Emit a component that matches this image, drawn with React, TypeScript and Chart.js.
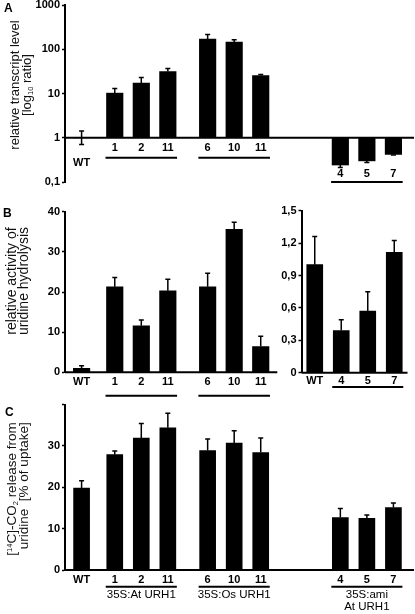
import React, { useEffect, useRef } from "react";
import { Chart, registerables } from "chart.js";

Chart.register(...registerables);

const FONT = "'Liberation Sans', Arial, Helvetica, sans-serif";

// ---------------- data ----------------
const LINES = ["WT", "1", "2", "11", "6", "10", "11", "4", "5", "7"];
const B_LEFT_LINES = ["WT", "1", "2", "11", "6", "10", "11"];
const B_RIGHT_LINES = ["WT", "4", "5", "7"];
const GROUP_NAMES = ["35S:At URH1", "35S:Os URH1", "35S:ami\nAt URH1"];

// A: relative transcript level [log10 ratio]
const A_VALUES = [1, 10.2, 17.2, 31.4, 169, 145, 25.5, 0.242, 0.3, 0.42];
const A_ERR_UP = [1.43, 13, 23, 36.6, 215, 163, 27, null, null, null];
const A_ERR_DOWN = [0.7, null, null, null, null, null, null, 0.214, 0.277, 0.405];
const A_TICKS = [0.1, 1, 10, 100, 1000];

// B: relative activity of uridine hydrolysis
const B_LEFT_VALUES = [1.0, 21.3, 11.6, 20.3, 21.3, 35.6, 6.4];
const B_LEFT_ERR_UP = [1.65, 23.6, 13.0, 23.2, 24.7, 37.4, 9.0];
const B_LEFT_TICKS = [0, 10, 20, 30, 40];
const B_RIGHT_VALUES = [1.0, 0.39, 0.57, 1.115];
const B_RIGHT_ERR_UP = [1.26, 0.49, 0.75, 1.225];
const B_RIGHT_TICKS = [0, 0.3, 0.6, 0.9, 1.2, 1.5];

// C: [14C]-CO2 release from uridine [% of uptake]
const C_VALUES = [19.8, 27.9, 31.9, 34.4, 28.9, 30.7, 28.4, 12.7, 12.5, 15.1];
const C_ERR_UP = [21.6, 28.8, 35.4, 37.9, 31.7, 33.7, 31.9, 14.9, 13.3, 16.2];
const C_TICKS = [0, 10, 20, 30, 40];

// ---------------- layout (not data) ----------------
// spacing between neighbouring lines, in quarter-slot units
const STEPS = [0, 5, 4, 4, 6, 4, 4, 12, 4, 4];
const LEAD = 2;
const MAIN_SLOTS = 52;
const B_LEFT_SLOTS = 32;
const Y_W = 30;

const slotsFrom = (steps: number[], lead: number) => {
  const out: number[] = [];
  let acc = lead;
  steps.forEach((s) => {
    acc += s;
    out.push(acc);
  });
  return out;
};

const MAIN_SLOT_IDX = slotsFrom(STEPS, LEAD);
const B_LEFT_SLOT_IDX = MAIN_SLOT_IDX.slice(0, B_LEFT_LINES.length);
const B_RIGHT_SLOT_IDX = [0, 1, 2, 3];

type Box = { left: number; top: number; w: number; h: number };
type Area = { left: number; top: number; right: number; bottom: number };

type Spec = {
  box: Box;
  area: Area;
  n: number;
  slots: number[];
  labels: string[];
  values: (number | null)[];
  errUp?: (number | null)[];
  errDown?: (number | null)[];
  log?: boolean;
  min: number;
  max: number;
  ticks: number[];
  fmt: (v: number) => string;
  base: number;
  extend: number;
  barWidth: number;
  labelY: (i: number, base: number, bottom: number) => number;
  groups: { from: number; to: number; name?: string }[];
  groupY: (g: number, base: number, bottom: number) => number;
};

const comma = (v: number) => (v === 0 ? "0" : v.toFixed(1).replace(".", ","));

function overlay(spec: Spec) {
  return {
    id: "overlay",
    afterDatasetsDraw(chart: any) {
      const ctx: CanvasRenderingContext2D = chart.ctx;
      const a = chart.chartArea;
      const xs = chart.scales.x;
      const ys = chart.scales.y;
      const base = ys.getPixelForValue(spec.base);
      ctx.save();
      ctx.strokeStyle = "#000";
      ctx.fillStyle = "#000";
      // baseline
      ctx.lineWidth = 2;
      ctx.beginPath();
      ctx.moveTo(a.left, base);
      ctx.lineTo(a.right + spec.extend, base);
      ctx.stroke();
      // error bars
      ctx.lineWidth = 1.5;
      const err = (i: number, from: number, to: number) => {
        const x = xs.getPixelForValue(spec.slots[i]);
        const y0 = ys.getPixelForValue(from);
        const y1 = ys.getPixelForValue(to);
        ctx.beginPath();
        ctx.moveTo(x, y0);
        ctx.lineTo(x, y1);
        ctx.moveTo(x - 2.5, y1);
        ctx.lineTo(x + 2.5, y1);
        ctx.stroke();
      };
      spec.values.forEach((v, i) => {
        if (v == null) return;
        const u = spec.errUp ? spec.errUp[i] : null;
        if (u != null) err(i, v, u);
        const d = spec.errDown ? spec.errDown[i] : null;
        if (d != null) err(i, v, d);
      });
      // category labels
      ctx.font = `bold 11px ${FONT}`;
      ctx.textAlign = "center";
      ctx.textBaseline = "middle";
      spec.labels.forEach((l, i) => {
        ctx.fillText(l, xs.getPixelForValue(spec.slots[i]), spec.labelY(i, base, a.bottom));
      });
      // group underlines + names
      spec.groups.forEach((g, gi) => {
        const hw = spec.barWidth / 2 + 1;
        const x0 = xs.getPixelForValue(spec.slots[g.from]) - hw;
        const x1 = xs.getPixelForValue(spec.slots[g.to]) + hw;
        const y = spec.groupY(gi, base, a.bottom);
        ctx.lineWidth = 2;
        ctx.beginPath();
        ctx.moveTo(x0, y);
        ctx.lineTo(x1, y);
        ctx.stroke();
        if (g.name) {
          ctx.font = `11.5px ${FONT}`;
          g.name.split("\n").forEach((t, k) => {
            ctx.fillText(t, (x0 + x1) / 2, y + 8.5 + k * 12);
          });
        }
      });
      ctx.restore();
    },
  };
}

function BarPanel({ spec }: { spec: Spec }) {
  const ref = useRef<HTMLCanvasElement | null>(null);
  useEffect(() => {
    const canvas = ref.current;
    if (!canvas) return;
    const { box, area } = spec;
    const data: (number | null)[] = new Array(spec.n).fill(null);
    const cats: string[] = new Array(spec.n).fill("");
    spec.slots.forEach((s, i) => {
      data[s] = spec.values[i];
      cats[s] = spec.labels[i];
    });
    const padding = {
      left: area.left - box.left - Y_W,
      top: area.top - box.top,
      right: box.left + box.w - area.right,
      bottom: box.top + box.h - area.bottom,
    };
    const ds: any = {
      data,
      backgroundColor: "#000",
      borderWidth: 0,
      barThickness: spec.barWidth,
    };
    if (spec.log) ds.base = spec.base;
    const chart = new Chart(canvas, {
      type: "bar",
      data: { labels: cats, datasets: [ds] },
      options: {
        responsive: false,
        animation: false,
        devicePixelRatio: 1,
        events: [],
        layout: { padding },
        plugins: { legend: { display: false }, tooltip: { enabled: false } },
        scales: {
          x: { display: false, offset: true },
          y: {
            type: spec.log ? "logarithmic" : "linear",
            min: spec.min,
            max: spec.max,
            afterBuildTicks: (s: any) => {
              s.ticks = spec.ticks.map((v) => ({ value: v }));
            },
            afterFit: (s: any) => {
              s.width = Y_W;
            },
            ticks: {
              autoSkip: false,
              maxRotation: 0,
              padding: 2,
              color: "#000",
              font: { family: FONT, size: 11, weight: "bold" },
              callback: (v: any) => spec.fmt(Number(v)),
            },
            grid: {
              display: true,
              drawOnChartArea: false,
              drawTicks: true,
              tickLength: 3,
              tickWidth: 1.5,
              tickColor: "#000",
              color: "#000",
            },
            border: { display: true, color: "#000", width: 2 },
          },
        },
      } as any,
      plugins: [overlay(spec)],
    });
    return () => chart.destroy();
  }, [spec]);
  const { box } = spec;
  return (
    <canvas
      ref={ref}
      width={box.w}
      height={box.h}
      style={{ position: "absolute", left: box.left, top: box.top, width: box.w, height: box.h }}
    />
  );
}

const SPEC_A: Spec = {
  box: { left: 0, top: -10, w: 415, h: 215 },
  area: { left: 65, top: 5, right: 410, bottom: 182 },
  n: MAIN_SLOTS,
  slots: MAIN_SLOT_IDX,
  labels: LINES,
  values: A_VALUES,
  errUp: A_ERR_UP,
  errDown: A_ERR_DOWN,
  log: true,
  min: 0.1,
  max: 1000,
  ticks: A_TICKS,
  fmt: (v) => (v < 1 ? String(v).replace(".", ",") : String(v)),
  base: 1,
  extend: 4,
  barWidth: 16.5,
  labelY: (i, base, bottom) => (i === 0 ? base + 25.5 : i >= 7 ? bottom - 8.3 : base + 10.5),
  groups: [
    { from: 1, to: 3 },
    { from: 4, to: 6 },
    { from: 7, to: 9 },
  ],
  groupY: (g, base, bottom) => (g === 2 ? bottom : base + 20),
};

const SPEC_B_LEFT: Spec = {
  box: { left: 0, top: 195, w: 290, h: 210 },
  area: { left: 65, top: 211.7, right: 65 + (B_LEFT_SLOTS * 345) / MAIN_SLOTS, bottom: 372.3 },
  n: B_LEFT_SLOTS,
  slots: B_LEFT_SLOT_IDX,
  labels: B_LEFT_LINES,
  values: B_LEFT_VALUES,
  errUp: B_LEFT_ERR_UP,
  min: 0,
  max: 40,
  ticks: B_LEFT_TICKS,
  fmt: (v) => String(v),
  base: 0,
  extend: 0,
  barWidth: 16.5,
  labelY: (_i, _b, bottom) => bottom + 9.7,
  groups: [
    { from: 1, to: 3 },
    { from: 4, to: 6 },
  ],
  groupY: (_g, _b, bottom) => bottom + 23.5,
};

const SPEC_B_RIGHT: Spec = {
  box: { left: 260, top: 195, w: 155, h: 210 },
  area: { left: 301.5, top: 210.7, right: 407.5, bottom: 372.7 },
  n: B_RIGHT_LINES.length,
  slots: B_RIGHT_SLOT_IDX,
  labels: B_RIGHT_LINES,
  values: B_RIGHT_VALUES,
  errUp: B_RIGHT_ERR_UP,
  min: 0,
  max: 1.5,
  ticks: B_RIGHT_TICKS,
  fmt: comma,
  base: 0,
  extend: 0,
  barWidth: 16,
  labelY: (_i, _b, bottom) => bottom + 8.7,
  groups: [{ from: 1, to: 3 }],
  groupY: (_g, _b, bottom) => bottom + 14.3,
};

const SPEC_C: Spec = {
  box: { left: 0, top: 390, w: 415, h: 224 },
  area: { left: 65, top: 404.6, right: 410, bottom: 570 },
  n: MAIN_SLOTS,
  slots: MAIN_SLOT_IDX,
  labels: LINES,
  values: C_VALUES,
  errUp: C_ERR_UP,
  min: 0,
  max: 40,
  ticks: C_TICKS,
  fmt: (v) => (v === 40 ? "" : String(v)),
  base: 0,
  extend: 4,
  barWidth: 16,
  labelY: (_i, _b, bottom) => bottom + 9.5,
  groups: [
    { from: 1, to: 3, name: GROUP_NAMES[0] },
    { from: 4, to: 6, name: GROUP_NAMES[1] },
    { from: 7, to: 9, name: GROUP_NAMES[2] },
  ],
  groupY: (_g, _b, bottom) => bottom + 16.7,
};

const titleStyle = (cx: number, cy: number, size: number, align: "center" | "right" = "center"): React.CSSProperties => ({
  position: "absolute",
  left: cx,
  top: cy,
  transform: "translate(-50%, -50%) rotate(-90deg)",
  fontFamily: FONT,
  fontSize: size,
  lineHeight: "12px",
  whiteSpace: "nowrap",
  textAlign: align,
  color: "#111",
});

const letterStyle = (x: number, y: number): React.CSSProperties => ({
  position: "absolute",
  left: x,
  top: y,
  fontFamily: FONT,
  fontWeight: "bold",
  fontSize: 12,
  lineHeight: "12px",
  color: "#000",
});

const small = (dy: number): React.CSSProperties => ({
  fontSize: 7.5,
  position: "relative",
  top: dy,
  lineHeight: 0,
});

export default function App() {
  return (
    <div
      style={{
        position: "absolute",
        left: 0,
        top: 0,
        width: 415,
        height: 614,
        overflow: "hidden",
        background: "#fff",
      }}
    >
      <BarPanel spec={SPEC_A} />
      <BarPanel spec={SPEC_B_LEFT} />
      <BarPanel spec={SPEC_B_RIGHT} />
      <BarPanel spec={SPEC_C} />

      <div style={letterStyle(4, 2)}>A</div>
      <div style={letterStyle(3, 206.5)}>B</div>
      <div style={letterStyle(5, 406)}>C</div>

      <div style={titleStyle(21, 85, 13)}>
        relative transcript level
        <br />[log<span style={small(2)}>10</span> ratio]
      </div>
      <div style={titleStyle(17.3, 281, 14)}>
        relative activity of
        <br />
        uridine hydrolysis
      </div>
      <div style={titleStyle(18, 489, 13.5, "right")}>
        [<span style={small(-4)}>14</span>C]-CO<span style={small(2)}>2</span> release from
        <br />
        uridine&nbsp;&nbsp;[% of uptake]
      </div>
    </div>
  );
}
